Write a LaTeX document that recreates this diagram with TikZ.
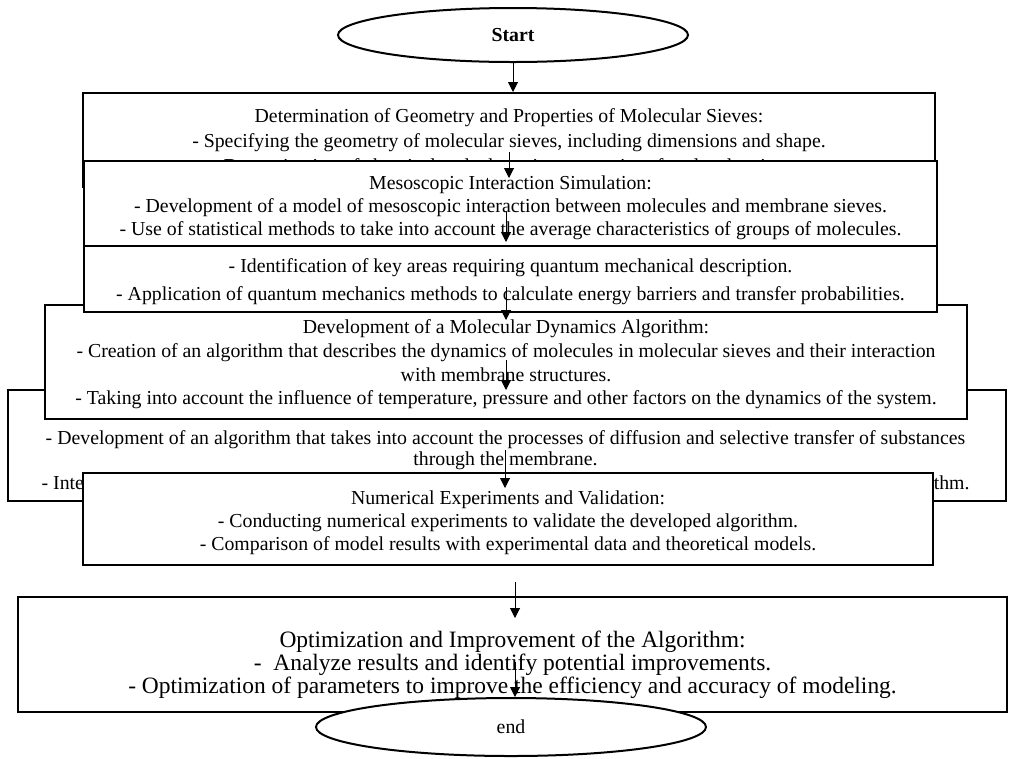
\documentclass[tikz,border=0pt]{standalone}
\usepackage{fontspec}
\setmainfont{Liberation Serif}
\usetikzlibrary{positioning,shapes.geometric,arrows.meta}

\begin{document}
\begin{tikzpicture}[x=0.75pt, y=-0.75pt,
    stepbox/.style={rectangle, draw, fill=white, line width=1.5pt, inner sep=0pt},
    steptext/.style={align=center, inner sep=0pt, font=\fontsize{14.85}{17.25}\selectfont},
    bigtext/.style={steptext, font=\fontsize{17.6}{17.2}\selectfont},
    terminal/.style={ellipse, draw, fill=white, line width=1.5pt, inner sep=0pt,
        font=\fontsize{14.85}{17.25}\selectfont},
    arr/.style={-{Triangle[length=7.5pt, width=7.5pt]}, line width=0.75pt},
]
\useasboundingbox (0,0) rectangle (1009,758);

% boxes, back to front
\node[stepbox, minimum width=852*0.75pt, minimum height=94*0.75pt] (geom) at (509,140) {};
\node[steptext] (geom-txt) at (509,143) {Determination of Geometry and Properties of Molecular Sieves:\\[1.5pt]
    - Specifying the geometry of molecular sieves, including dimensions and shape.\\[1.5pt]
    - Determination of chemical and adsorption properties of molecular sieves.};

\node[stepbox, minimum width=998*0.75pt, minimum height=111*0.75pt] (diffusion) at (507,445.5) {};
\node[steptext] (diffusion-txt) at (505.5,462) {- Development of an algorithm that takes into account the processes of diffusion and selective transfer of substances\\[-1pt]
    through the membrane.\\[0.5pt]
    - Integration of the diffusion and selective mass transfer algorithm into the developed molecular dynamics algorithm.};

\node[stepbox, minimum width=922*0.75pt, minimum height=114*0.75pt] (dynamics) at (506,362) {};
\node[steptext, font=\fontsize{14.85}{17.8}\selectfont] (dynamics-txt) at (506,364.5) {Development of a Molecular Dynamics Algorithm:\\
    - Creation of an algorithm that describes the dynamics of molecules in molecular sieves and their interaction\\
    with membrane structures.\\
    - Taking into account the influence of temperature, pressure and other factors on the dynamics of the system.};

\node[stepbox, minimum width=853*0.75pt, minimum height=66*0.75pt] (quantum) at (510.5,279) {};
\node[steptext] (quantum-txt) at (510.5,282) {- Identification of key areas requiring quantum mechanical description.\\[3.75pt]
    - Application of quantum mechanics methods to calculate energy barriers and transfer probabilities.};

\node[stepbox, minimum width=853*0.75pt, minimum height=85*0.75pt] (meso) at (510.5,203.5) {};
\node[steptext] (meso-txt) at (510.5,207.5) {Mesoscopic Interaction Simulation:\\
    - Development of a model of mesoscopic interaction between molecules and membrane sieves.\\
    - Use of statistical methods to take into account the average characteristics of groups of molecules.};

\node[stepbox, minimum width=850*0.75pt, minimum height=92*0.75pt] (numexp) at (508,519) {};
\node[steptext] (numexp-txt) at (508,523) {Numerical Experiments and Validation:\\
    - Conducting numerical experiments to validate the developed algorithm.\\
    - Comparison of model results with experimental data and theoretical models.};

\node[stepbox, minimum width=989*0.75pt, minimum height=115*0.75pt] (optim) at (512.5,654.5) {};
\node[bigtext] (optim-txt) at (512.5,664.5) {Optimization and Improvement of the Algorithm:\\
    -\ \ Analyze results and identify potential improvements.\\
    - Optimization of parameters to improve the efficiency and accuracy of modeling.};

\node[terminal, minimum width=350*0.75pt, minimum height=54*0.75pt, font=\fontsize{14.85}{17.25}\selectfont\bfseries] (start) at (513,35) {Start};
\node[terminal, minimum width=390*0.75pt, minimum height=58*0.75pt] (finish) at (511,727) {end};

% connectors
\coordinate (a2) at (509,152); \coordinate (b2) at (509,178);
\coordinate (a3) at (506,212); \coordinate (b3) at (506,242);
\coordinate (a4) at (506,287); \coordinate (b4) at (506,320);
\coordinate (a5) at (506,360); \coordinate (b5) at (506,390);
\coordinate (a6) at (505,450); \coordinate (b6) at (505,488);
\coordinate (a7) at (515,582); \coordinate (b7) at (515,618);
\coordinate (a8) at (515,662);

\draw[arr] (start.south) -- (start.south |- geom.north);
\draw[arr] (a2) -- (b2);
\draw[arr] (a3) -- (b3);
\draw[arr] (a4) -- (b4);
\draw[arr] (a5) -- (b5);
\draw[arr] (a6) -- (b6);
\draw[arr] (a7) -- (b7);
\draw[arr] (a8) -- (a8 |- finish.north);

\end{tikzpicture}
\end{document}
